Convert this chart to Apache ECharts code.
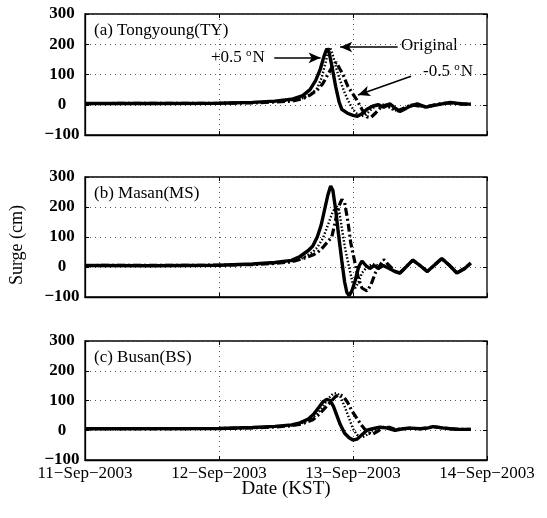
<!DOCTYPE html>
<html>
<head>
<meta charset="utf-8">
<script src="https://cdn.jsdelivr.net/npm/echarts@6/dist/echarts.min.js"></script>
<style>
  html, body { margin: 0; padding: 0; background: #fff; }
  #chart { width: 547px; height: 518px; }
</style>
</head>
<body>
<div id="chart"></div>
<script>
// hours since 11-Sep-2003 00:00 KST
const xTicks = [0, 24, 48, 72];
const dateLabels = ['11\u2212Sep\u22122003', '12\u2212Sep\u22122003', '13\u2212Sep\u22122003', '14\u2212Sep\u22122003'];
const yTicks = [-100, 0, 100, 200, 300];

const panelNames = ['(a) Tongyoung(TY)', '(b) Masan(MS)', '(c) Busan(BS)'];

// (a) Tongyoung
const tyPlus = [[0,4],[12,4],[24,5],[30,8],[34,12],[37,18],[39,30],[40.3,50],[41.3,80],[42.1,115],[42.8,160],[43.3,185],[43.7,175],[44.3,120],[44.9,60],[45.5,10],[46.0,-15],[47,-28],[48,-35],[48.8,-38],[49.6,-30],[50.5,-15],[51.5,-5],[52.5,0],[53.5,-8],[54.6,3],[55.5,-10],[56.4,-22],[57.5,-12],[58.2,-5],[59.5,3],[61,-8],[62.3,-3],[64,3],[65.4,8],[66.6,5],[68,2],[69.1,2]];
const tyOrig = [[0,4],[24,5],[30,7],[34,10],[37,15],[39,22],[40.5,35],[41.6,55],[42.4,90],[43.1,140],[43.6,180],[43.9,190],[44.3,170],[45,120],[45.7,80],[46.6,35],[47.5,0],[48.4,-25],[49.3,-38],[50.2,-35],[51,-20],[52,-5],[53,2],[54,-3],[55,-15],[56.4,-22],[57.5,-10],[58.7,3],[60,-5],[61.5,-8],[63,0],[64.5,6],[66,4],[67.5,2],[69.1,2]];
const tyMinus = [[0,4],[24,5],[30,6],[34,9],[37,12],[39,20],[40.3,32],[41.6,49],[42.6,70],[43.5,100],[44.3,125],[45,140],[45.6,120],[46.2,100],[47.1,60],[48,35],[48.7,15],[49.6,-15],[50.5,-40],[51.2,-42],[52,-28],[53,-8],[54,0],[55,-10],[56,-20],[57,-12],[58.5,0],[60,-5],[61.5,-5],[63,2],[64.5,5],[66,5],[67.5,2],[69.1,3]];

// (b) Masan
const msPlus = [[0,5],[12,4],[24,6],[30,10],[34,15],[37,22],[38.5,35],[40,55],[40.8,70],[41.6,100],[42.3,140],[42.9,190],[43.5,240],[44.0,270],[44.4,255],[44.9,190],[45.4,110],[46.0,20],[46.5,-50],[46.9,-85],[47.3,-95],[47.8,-80],[48.4,-45],[49.0,0],[49.6,20],[50.3,5],[51,-5],[51.8,5],[52.5,-5],[53.4,5],[54.5,-5],[55.5,-15],[56.4,-20],[57.5,0],[58.7,23],[60,5],[61.3,-15],[62.5,5],[63.9,28],[65.3,5],[66.6,-20],[68,-5],[69.1,13]];
const msOrig = [[0,5],[24,6],[30,9],[34,13],[37,19],[39,30],[40.8,50],[41.6,65],[42.6,95],[43.5,140],[44.3,180],[45,205],[45.5,190],[46.0,130],[46.6,60],[47.3,0],[48,-60],[48.4,-70],[48.9,-55],[49.6,-20],[50.5,0],[51.5,10],[52.5,5],[53.4,5],[54.5,-5],[55.5,-15],[56.4,-20],[57.5,0],[58.7,23],[60,5],[61.3,-15],[62.5,5],[63.9,28],[65.3,5],[66.6,-20],[68,-5],[69.1,13]];
const msMinus = [[0,5],[24,6],[30,8],[34,12],[37,17],[39,28],[40.8,40],[41.6,48],[42.6,65],[43.5,85],[44.2,100],[44.8,150],[45.4,200],[46.0,225],[46.5,215],[47.1,150],[47.6,80],[48.4,10],[49.0,-40],[49.6,-70],[50.5,-80],[51.2,-60],[52,-20],[52.8,5],[53.5,25],[54.2,10],[55,-5],[55.5,-15],[56.4,-20],[57.5,0],[58.7,23],[60,5],[61.3,-15],[62.5,5],[63.9,28],[65.3,5],[66.6,-20],[68,-5],[69.1,13]];

// (c) Busan
const bsPlus = [[0,5],[24,6],[30,9],[34,13],[37,18],[38.5,25],[40,38],[41,55],[41.8,75],[42.6,95],[43.3,104],[43.9,100],[44.5,80],[45.1,50],[45.7,20],[46.5,-10],[47.3,-25],[48,-33],[48.7,-30],[49.6,-15],[50.5,0],[51.5,5],[52.8,10],[54,8],[55.5,0],[57,5],[58.2,7],[60,5],[61.5,8],[62.3,12],[64,8],[65.4,5],[67,3],[69.1,3]];
const bsOrig = [[0,5],[24,6],[30,8],[34,12],[37,16],[39,25],[40.5,38],[41.6,55],[42.6,80],[43.5,105],[44.4,122],[45.1,125],[45.7,115],[46.5,80],[47.3,40],[48,5],[48.7,-15],[49.6,-25],[50.5,-15],[51.5,0],[52.8,8],[54,8],[55.5,0],[57,5],[58.2,7],[60,5],[61.5,8],[62.3,12],[64,8],[65.4,5],[67,3],[69.1,3]];
const bsMinus = [[0,5],[24,6],[30,8],[34,11],[37,15],[39,22],[40.8,35],[42,55],[43,75],[44,95],[44.8,112],[45.5,120],[46.2,115],[47,95],[47.8,65],[48.7,40],[49.6,15],[50.5,-5],[51.4,-15],[52.3,-5],[53.4,10],[54.5,10],[55.5,3],[57,5],[58.2,7],[60,5],[61.5,8],[62.3,12],[64,8],[65.4,5],[67,3],[69.1,3]];

const panels = [
    { plus: tyPlus, orig: tyOrig, minus: tyMinus },
    { plus: msPlus, orig: msOrig, minus: msMinus },
    { plus: bsPlus, orig: bsOrig, minus: bsMinus },
];

const FONT = '"Liberation Serif", "DejaVu Serif", serif';
const boxes = [
    { top: 14, height: 121 },
    { top: 177, height: 120 },
    { top: 341, height: 119 },
];
const LEFT = 85, WIDTH = 402;

const chart = echarts.init(document.getElementById('chart'), null, { renderer: 'canvas' });

const grid = [], xAxis = [], yAxis = [], series = [];
const gridLine = { show: true, lineStyle: { color: '#555', width: 1, type: [1, 4] } };
const tick = { show: true, inside: true, length: 4, lineStyle: { color: '#000' } };

boxes.forEach((b, i) => {
    grid.push({ left: LEFT, top: b.top, width: WIDTH, height: b.height, show: true, borderColor: '#000', borderWidth: 1.3, backgroundColor: 'transparent' });
    const isLast = i === boxes.length - 1;
    xAxis.push({
        type: 'value', gridIndex: i, min: xTicks[0], max: xTicks[xTicks.length - 1], interval: 24,
        axisLine: { show: true, onZero: false, lineStyle: { color: '#000', width: 1.3 } },
        axisTick: tick,
        axisLabel: {
            show: isLast, margin: 5, color: '#000', fontFamily: FONT, fontSize: 17,
            formatter: v => dateLabels[xTicks.indexOf(v)] || ''
        },
        splitLine: gridLine
    });
    xAxis.push({
        type: 'value', gridIndex: i, position: 'top', min: 0, max: 72, interval: 24,
        axisLine: { show: false, onZero: false }, axisLabel: { show: false }, splitLine: { show: false },
        axisTick: tick
    });
    yAxis.push({
        type: 'value', gridIndex: i, min: yTicks[0], max: yTicks[yTicks.length - 1], interval: 100,
        axisLine: { show: true, onZero: false, lineStyle: { color: '#000', width: 1.3 } },
        axisTick: tick,
        axisLabel: { show: true, margin: 23, align: 'center', color: '#000', fontFamily: FONT, fontSize: 17, fontWeight: 'bold',
            formatter: v => (v < 0 ? '\u2212' + Math.abs(v) : String(v)) },
        splitLine: gridLine
    });
    yAxis.push({
        type: 'value', gridIndex: i, position: 'right', min: -100, max: 300, interval: 100,
        axisLine: { show: false, onZero: false }, axisLabel: { show: false }, splitLine: { show: false },
        axisTick: tick
    });

    const p = panels[i];
    const base = { type: 'line', xAxisIndex: 2 * i, yAxisIndex: 2 * i, showSymbol: false, symbol: 'none', animation: false, silent: true };
    series.push(Object.assign({}, base, { name: '-0.5N', data: p.minus, lineStyle: { color: '#000', width: 3.2, type: [8, 3, 2, 3] } }));
    series.push(Object.assign({}, base, { name: 'Original', data: p.orig, lineStyle: { color: '#000', width: 2.4, type: [1.5, 2] } }));
    const plusSeries = Object.assign({}, base, { name: '+0.5N', data: p.plus, lineStyle: { color: '#000', width: 3.4 } });
    if (i === 0) {
        const arrow = { color: '#000', width: 1.5, type: 'solid' };
        plusSeries.markLine = {
            silent: true, symbol: ['none', 'arrow'], symbolSize: [8, 12], label: { show: false },
            lineStyle: arrow, animation: false,
            data: [
                [{ coord: [33.9, 155] }, { coord: [42.2, 155] }],
                [{ coord: [56.0, 191] }, { coord: [45.7, 191] }],
                [{ coord: [58.4, 94] }, { coord: [48.9, 32] }]
            ]
        };
    }
    series.push(plusSeries);
});

const textStyle = (x, y, text, size, extra) => ({
    type: 'text', left: x, top: y,
    style: Object.assign({ text: text, fill: '#000', font: size + 'px ' + FONT }, extra || {})
});

const graphic = [];
panelNames.forEach((n, i) => graphic.push(textStyle(94, boxes[i].top + 8, n, 17)));
const sup = { s: { fontSize: 11, verticalAlign: 'top', padding: [0, 1, 8, 0], fontFamily: FONT } };
graphic.push({
    type: 'text', left: 211, top: 48,
    style: { text: '+0.5 {s|o}N', rich: sup, fill: '#000', font: '17px ' + FONT }
});
graphic.push(textStyle(401, 37, 'Original', 17));
graphic.push({
    type: 'text', left: 423, top: 62,
    style: { text: '-0.5 {s|o}N', rich: sup, fill: '#000', font: '17px ' + FONT }
});
graphic.push({
    type: 'text', rotation: Math.PI / 2, x: 17, y: 245,
    style: { text: 'Surge (cm)', fill: '#000', font: '18px ' + FONT, align: 'center', verticalAlign: 'middle' }
});
graphic.push({
    type: 'text', x: 286, y: 489,
    style: { text: 'Date (KST)', fill: '#000', font: '19px ' + FONT, align: 'center', verticalAlign: 'middle' }
});

chart.setOption({
    animation: false,
    grid: grid,
    xAxis: xAxis,
    yAxis: yAxis,
    series: series,
    graphic: graphic
});
</script>
</body>
</html>
